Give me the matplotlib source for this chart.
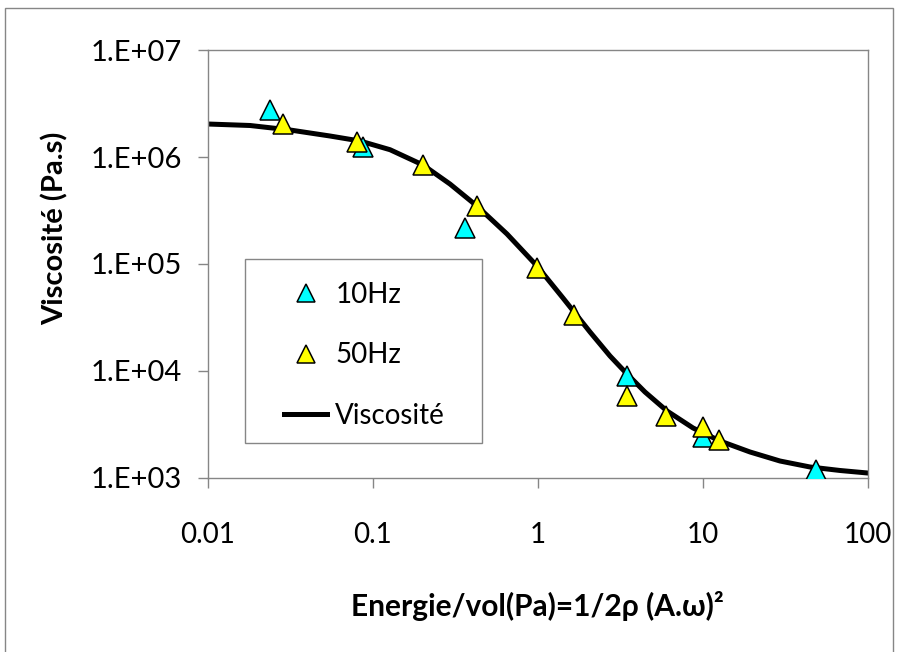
import matplotlib
matplotlib.use("Agg")
import matplotlib.pyplot as plt
from matplotlib.patches import Rectangle
from matplotlib.ticker import FixedLocator, NullLocator

plt.rcParams['font.family'] = ['Lato', 'DejaVu Sans']

# measured points, 10 Hz
x_10hz = [0.0238, 0.0869, 0.361, 3.46, 10.1, 48.4]
y_10hz = [2.75e6, 1.24e6, 2.17e5, 8.97e3, 2.41e3, 1.19e3]

# measured points, 50 Hz
x_50hz = [0.0285, 0.080, 0.201, 0.427, 0.986, 1.67, 3.46, 5.97, 10.1, 12.5]
y_50hz = [2.03e6, 1.38e6, 8.4e5, 3.48e5, 9.2e4, 3.34e4, 5.83e3, 3.8e3, 3.0e3, 2.27e3]

# viscosity curve
x_fit = [0.01, 0.01805, 0.03154, 0.05511, 0.08375, 0.1273, 0.2017, 0.294, 0.4285,
         0.6515, 0.9903, 1.423, 2.075, 2.743, 3.477, 4.47, 6.075, 8.736, 12.73,
         19.35, 29.41, 44.7, 67.95, 100]
y_fit = [2.034e6, 1.97e6, 1.788e6, 1.571e6, 1.411e6, 1.17e6, 8.42e5, 5.59e5,
         3.48e5, 1.907e5, 9.58e4, 4.81e4, 2.315e4, 1.381e4, 9.38e3, 6.36e3,
         4.23e3, 2.934e3, 2.217e3, 1.75e3, 1.441e3, 1.267e3, 1.175e3, 1.113e3]

x_ticks = [0.01, 0.1, 1, 10, 100]
x_tick_labels = ['0.01', '0.1', '1', '10', '100']
y_ticks = [1e3, 1e4, 1e5, 1e6, 1e7]
y_tick_labels = ['1.E+03', '1.E+04', '1.E+05', '1.E+06', '1.E+07']

fig = plt.figure(figsize=(8.97, 6.52), dpi=100)
ax = fig.add_axes([0.2316, 0.2669, 0.7357, 0.6564])

ax.plot(x_fit, y_fit, color='black', lw=3.6, label='Viscosité', zorder=2,
        solid_joinstyle='round')
ax.plot(x_10hz, y_10hz, ls='none', marker='^', ms=14.5, mfc='#00FFFF', mec='black',
        mew=1.1, label='10Hz', zorder=3)
ax.plot(x_50hz, y_50hz, ls='none', marker='^', ms=14.5, mfc='#FFFF00', mec='black',
        mew=1.1, label='50Hz', zorder=4)

ax.set_xscale('log')
ax.set_yscale('log')
ax.set_xlim(0.01, 100)
ax.set_ylim(1e3, 1e7)
ax.xaxis.set_major_locator(FixedLocator(x_ticks))
ax.yaxis.set_major_locator(FixedLocator(y_ticks))
ax.xaxis.set_minor_locator(NullLocator())
ax.yaxis.set_minor_locator(NullLocator())
ax.set_xticklabels(x_tick_labels)
ax.set_yticklabels(y_tick_labels)
ax.tick_params(axis='both', direction='out', length=7.5, width=1, color='#868686',
               labelcolor='black')
ax.tick_params(axis='x', pad=24, labelsize=20)
ax.tick_params(axis='y', pad=11, labelsize=21)
for s in ax.spines.values():
    s.set_color('#868686')
    s.set_linewidth(1)

# legend: frame drawn separately, entries placed inside it
ax.add_patch(Rectangle((0.0565, 0.0818), 0.3591, 0.4299, transform=ax.transAxes,
                       fill=False, edgecolor='#868686', lw=1, zorder=5))
handles, labels = ax.get_legend_handles_labels()
order = [1, 2, 0]
leg = ax.legend([handles[i] for i in order], [labels[i] for i in order],
                loc='upper left', bbox_to_anchor=(0.1156, 0.459),
                fontsize=20, frameon=False, labelspacing=1.25,
                handlelength=1.55, handletextpad=0.3, borderpad=0,
                borderaxespad=0, markerscale=0.85)

fig.text(537 / 897, 1 - 606 / 652, 'Energie/vol(Pa)=1/2ρ (A.ω)²', fontsize=21.5,
         fontweight='bold', ha='center', va='center')
fig.text(55 / 897, 1 - 228 / 652, 'Viscosité (Pa.s)', rotation=90, fontsize=21,
         fontweight='bold', ha='center', va='center')

# outer chart frame
fig.patches.append(Rectangle((5 / 897, -0.1), 888 / 897, 1.1 - 8 / 652,
                             transform=fig.transFigure, fill=False,
                             edgecolor='#868686', lw=1))

fig.savefig('out.png', dpi=100)
